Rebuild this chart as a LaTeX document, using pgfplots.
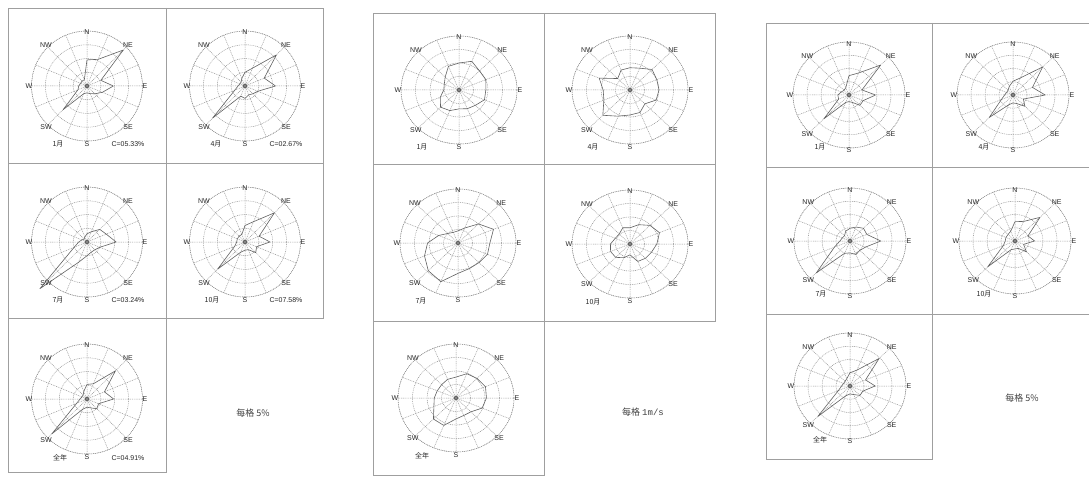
\documentclass[border=0pt]{standalone}
\usepackage{fontspec}
\setmainfont{Liberation Sans}
\setmonofont{Liberation Mono}
\newfontfamily\cjk{Noto Sans CJK SC}
\usepackage{pgfplots}
\pgfplotsset{compat=1.18}
\usepgfplotslibrary{polar}

\pgfplotsset{
  rose/.style={
    anchor=center, scale only axis, clip=false, enlargelimits=false,
    xtick={0,22.5,...,337.5}, xticklabels={}, yticklabels={},
    ymin=0, grid=major, major tick length=0pt,
    major grid style={gray!85, dash pattern=on 0.9pt off 0.9pt, line width=0.5pt},
    x axis line style={gray!85, dash pattern=on 0.9pt off 0.9pt, line width=0.5pt},
    y axis line style={draw=none},
  },
  wind/.style={black!62, line width=0.6pt, line join=round},
  calm/.style={only marks, mark=o, mark size=1.8pt, black!80, mark options={line width=0.55pt}},
}

% x, y, width, height, ymax, yticks, data (angle from E, counter-clockwise)
\newcommand{\rose}[7]{%
  \begin{polaraxis}[rose, at={(#1pt,#2pt)}, width=#3pt, height=#4pt, ymax=#5, ytick={#6}]
    \addplot[wind] coordinates {#7};
    \addplot[calm] coordinates {(0,0)};
  \end{polaraxis}}

% x, y, x radius, y radius of the labels
\newcommand{\dirs}[4]{%
  \node[lab] at (#1pt,#2pt+#4pt-4pt) {N};
  \foreach \a/\t in {45/NE,0/E,-45/SE,-90/S,-135/SW,180/W,135/NW}
    {\node[lab] at ([shift={(\a:#3pt and #4pt)}]#1pt,#2pt) {\t};}}

% x, y, left offset, down offset, caption, calm text
\newcommand{\caps}[6]{%
  \node[lab] at (#1pt-#3pt,#2pt-#4pt) {\cjk #5};
  \node[lab] at (#1pt+41pt,#2pt-#4pt) {#6};}

\begin{document}
\begin{tikzpicture}[lab/.style={font=\fontsize{7}{8}\selectfont, text=black!85, inner sep=0pt}]
\useasboundingbox (0pt,0pt) rectangle (1089pt,480pt);

% --- wind frequency, every ring 5%
\rose{87}{394}{111}{110}{20}{5,10,15,20}{(0,9.5)(22.5,5.4)(45,18.5)(67.5,10.5)(90,9.5)(112.5,2.5)(135,2.5)(157.5,2.5)(180,3)(202.5,3.5)(225,12.2)(247.5,3)(270,2.5)(292.5,3)(315,4)(337.5,6)(360,9.5)}
\rose{245}{394}{111}{110}{20}{5,10,15,20}{(0,11)(22.5,7.5)(45,16)(67.5,7)(90,5)(112.5,3)(135,2)(157.5,2)(180,2.5)(202.5,4)(225,16.5)(247.5,4)(270,4.5)(292.5,3.5)(315,4)(337.5,5)(360,11)}
\rose{87}{238}{111}{110}{20}{5,10,15,20}{(0,10.5)(22.5,7.5)(45,6.5)(67.5,4)(90,3)(112.5,2)(135,1.5)(157.5,2)(180,3)(202.5,5)(225,24)(247.5,8)(270,5)(292.5,4)(315,4)(337.5,5)(360,10.5)}
\rose{245}{238}{111}{110}{20}{5,10,15,20}{(0,9)(22.5,5.5)(45,15)(67.5,8)(90,6)(112.5,3)(135,3)(157.5,3)(180,3)(202.5,4)(225,14)(247.5,4)(270,3)(292.5,3)(315,5.5)(337.5,4.5)(360,9)}
\rose{87}{81}{111}{110}{20}{5,10,15,20}{(0,9.6)(22.5,6.8)(45,14.5)(67.5,6)(90,5.3)(112.5,3)(135,2)(157.5,2)(180,2.5)(202.5,4)(225,18)(247.5,4)(270,3)(292.5,3.5)(315,5)(337.5,4.5)(360,9.6)}

% --- mean wind speed, every ring 1 m/s
\rose{459}{390}{116}{108}{4}{1,2,3,4}{(0,1.85)(22.5,2.0)(45,2.0)(67.5,2.3)(90,2.0)(112.5,1.9)(135,1.35)(157.5,1.1)(180,1.05)(202.5,1.4)(225,1.8)(247.5,1.65)(270,1.4)(292.5,1.5)(315,1.6)(337.5,1.9)(360,1.85)}
\rose{630}{390}{116}{108}{4}{1,2,3,4}{(0,2.0)(22.5,2.0)(45,2.15)(67.5,1.75)(90,1.65)(112.5,1.6)(135,1.2)(157.5,2.3)(180,1.85)(202.5,1.95)(225,2.65)(247.5,2.1)(270,1.85)(292.5,1.8)(315,1.45)(337.5,1.95)(360,2.0)}
\rose{458}{237}{116}{108}{4}{1,2,3,4}{(0,2.2)(22.5,2.65)(45,2.0)(67.5,1.2)(90,0.9)(112.5,0.85)(135,1.0)(157.5,1.45)(180,2.1)(202.5,2.5)(225,2.9)(247.5,3.1)(270,2.25)(292.5,2.05)(315,2.05)(337.5,2.2)(360,2.2)}
\rose{630}{236}{116}{108}{4}{1,2,3,4}{(0,1.85)(22.5,2.2)(45,1.95)(67.5,1.55)(90,1.2)(112.5,1.3)(135,1.05)(157.5,1.1)(180,1.35)(202.5,1.45)(225,1.4)(247.5,1.1)(270,0.8)(292.5,1.4)(315,1.5)(337.5,1.6)(360,1.85)}
\rose{456}{82}{116}{108}{4}{1,2,3,4}{(0,2.1)(22.5,2.2)(45,2.05)(67.5,1.95)(90,1.55)(112.5,1.5)(135,1.4)(157.5,1.4)(180,1.5)(202.5,1.65)(225,2.2)(247.5,2.2)(270,1.55)(292.5,1.4)(315,1.45)(337.5,1.95)(360,2.1)}

% --- wind frequency (second set), every ring 5%
\rose{849}{385}{112}{106}{20}{5,10,15,20}{(0,9.5)(22.5,5)(45,16)(67.5,9)(90,7.3)(112.5,3)(135,2.5)(157.5,3)(180,4)(202.5,4)(225,12.7)(247.5,3)(270,2.5)(292.5,3)(315,5.5)(337.5,5.5)(360,9.5)}
\rose{1013}{385}{112}{106}{20}{5,10,15,20}{(0,11.5)(22.5,7.5)(45,15)(67.5,7)(90,5.2)(112.5,3.5)(135,2.5)(157.5,2.5)(180,3)(202.5,4.5)(225,12)(247.5,4)(270,3)(292.5,3.5)(315,6)(337.5,4)(360,11.5)}
\rose{850}{239}{112}{106}{20}{5,10,15,20}{(0,11)(22.5,6.5)(45,6.8)(67.5,5.7)(90,4.8)(112.5,4)(135,2.8)(157.5,3)(180,3.6)(202.5,6)(225,17)(247.5,5)(270,4.5)(292.5,5.5)(315,5)(337.5,6)(360,11)}
\rose{1015}{239}{112}{106}{20}{5,10,15,20}{(0,7)(22.5,5)(45,12.6)(67.5,8)(90,7.3)(112.5,4)(135,3.5)(157.5,3.5)(180,3.5)(202.5,4.5)(225,13.8)(247.5,3.5)(270,3)(292.5,3)(315,5.8)(337.5,3.3)(360,7)}
\rose{850}{94}{112}{106}{20}{5,10,15,20}{(0,9)(22.5,6)(45,14.7)(67.5,6.5)(90,5)(112.5,3)(135,2.5)(157.5,2.5)(180,3)(202.5,4.5)(225,16.3)(247.5,4)(270,3)(292.5,3.5)(315,5)(337.5,5)(360,9)}

% frames
\begin{scope}[x=1pt, y=1pt, draw=gray!75, line width=0.6pt]
  \draw (8,472) rectangle (323,162);
  \draw (166,472) -- (166,162);
  \draw (8,317) -- (323,317);
  \draw (8,162) -- (8,8) -- (166,8) -- (166,162);

  \draw (373,467) rectangle (715,159);
  \draw (544,467) -- (544,159);
  \draw (373,316) -- (715,316);
  \draw (373,159) -- (373,5) -- (544,5) -- (544,159);

  \draw (1089,457) -- (766,457) -- (766,166) -- (1089,166);
  \draw (932,457) -- (932,166);
  \draw (766,313) -- (1089,313);
  \draw (766,166) -- (766,21) -- (932,21) -- (932,166);
\end{scope}

% compass points
\dirs{87}{394}{58}{58}  \dirs{245}{394}{58}{58}
\dirs{87}{238}{58}{58}  \dirs{245}{238}{58}{58}
\dirs{87}{81}{58}{58}
\dirs{459}{390}{61}{57} \dirs{630}{390}{61}{57}
\dirs{458}{237}{61}{57} \dirs{630}{236}{61}{57}
\dirs{456}{82}{61}{57}
\dirs{849}{385}{59}{55} \dirs{1013}{385}{59}{55}
\dirs{850}{239}{59}{55} \dirs{1015}{239}{59}{55}
\dirs{850}{94}{59}{55}

% captions
\caps{87}{394}{29}{58}{1月}{C=05.33\%}
\caps{245}{394}{29}{58}{4月}{C=02.67\%}
\caps{87}{238}{29}{58}{7月}{C=03.24\%}
\caps{245}{238}{33}{58}{10月}{C=07.58\%}
\caps{87}{81}{27}{59}{全年}{C=04.91\%}

\caps{459}{390}{37}{57}{1月}{}
\caps{630}{390}{37}{57}{4月}{}
\caps{458}{237}{37}{58}{7月}{}
\caps{630}{236}{37}{58}{10月}{}
\caps{456}{82}{34}{58}{全年}{}

\caps{849}{385}{29}{52}{1月}{}
\caps{1013}{385}{29}{52}{4月}{}
\caps{850}{239}{29}{53}{7月}{}
\caps{1015}{239}{31}{53}{10月}{}
\caps{850}{94}{30}{54}{全年}{}

\node[font=\fontsize{9}{10}\selectfont\cjk, text=black!75] at (253pt,67pt) {每格 5\%};
\node[font=\fontsize{9}{10}\selectfont\cjk, text=black!75] at (643pt,68pt) {每格 {\ttfamily 1m/s}};
\node[font=\fontsize{9}{10}\selectfont\cjk, text=black!75] at (1022pt,82pt) {每格 5\%};
\end{tikzpicture}
\end{document}
